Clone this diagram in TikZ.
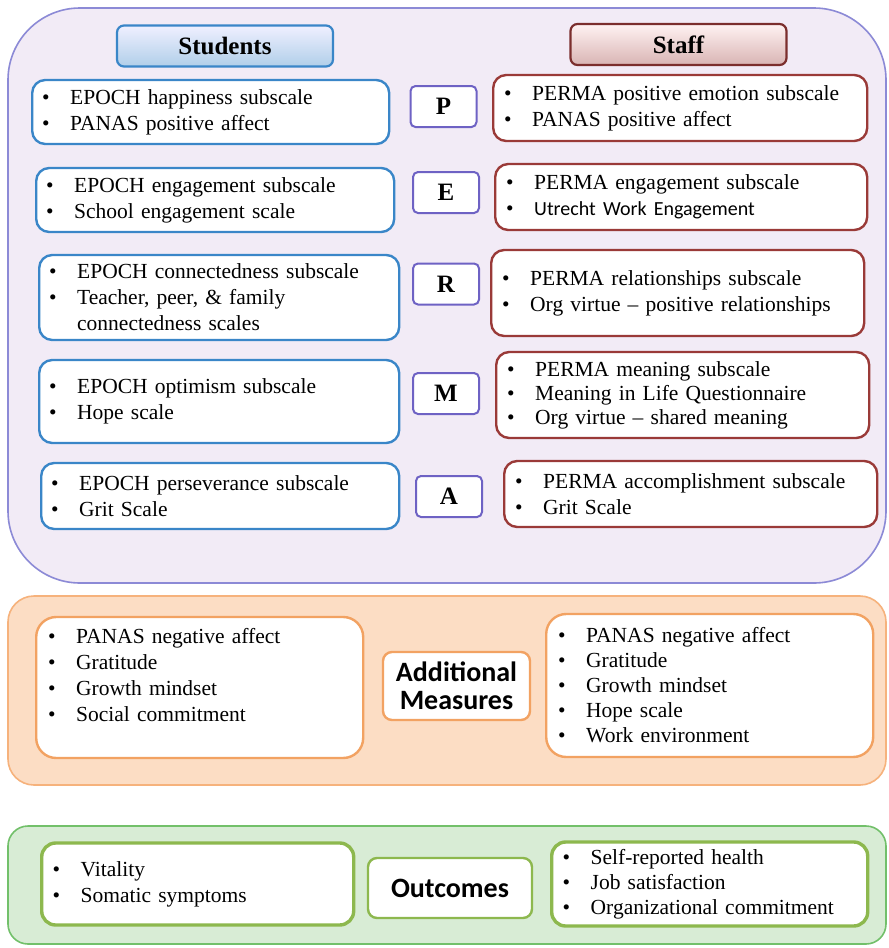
\documentclass[tikz,border=0pt]{standalone}
\usepackage{fontspec}
\setmainfont{Liberation Serif}
\newfontfamily\calfont{Carlito}
\usepackage{tikz}

\definecolor{permafill}{HTML}{F2EBF6}
\definecolor{permaline}{HTML}{8C8AD6}
\definecolor{stublue}{HTML}{3A86C8}
\definecolor{stared}{HTML}{9A3A38}
\definecolor{letline}{HTML}{6E62C4}
\definecolor{addfill}{HTML}{FCDDC4}
\definecolor{addline}{HTML}{F6B27C}
\definecolor{addbox}{HTML}{F2A262}
\definecolor{outfill}{HTML}{D8ECD5}
\definecolor{outline}{HTML}{72C06A}
\definecolor{outbox}{HTML}{8DB84E}

\newcommand{\bul}[1]{\makebox[28pt][l]{\textbullet}#1}
\newcommand{\cont}[1]{\hspace*{28pt}#1}

\begin{document}
\begin{tikzpicture}[x=1pt,y=-1pt,
  every node/.style={font=\fontsize{21.5}{26}\selectfont},
  stubox/.style={draw=stublue,line width=2.4pt,fill=white,rounded corners=13pt,
    align=left,inner xsep=10pt,anchor=west,text width=#1},
  stabox/.style={draw=stared,line width=2.4pt,fill=white,rounded corners=13pt,
    align=left,inner xsep=11pt,anchor=west,text width=#1},
  letterbox/.style={draw=letline,line width=2pt,fill=white,rounded corners=5pt,
    minimum width=66pt,minimum height=41pt,font=\fontsize{25}{30}\selectfont\bfseries},
  headbox/.style={line width=2.2pt,rounded corners=7pt,minimum width=216pt,
    minimum height=41pt,font=\fontsize{25}{30}\selectfont\bfseries},
  addbx/.style={draw=addbox,line width=2.4pt,fill=white,rounded corners=20pt,
    align=left,inner xsep=12pt,anchor=west,text width=#1},
  outbx/.style={draw=outbox,line width=3.4pt,fill=white,rounded corners=14pt,
    align=left,inner xsep=11pt,anchor=west,text width=#1},
  midbox/.style={line width=2.4pt,fill=white,rounded corners=9pt,align=center,
    font=\calfont\fontsize{28}{28}\selectfont\bfseries}]

\useasboundingbox[fill=white] (0,0) rectangle (889,948);

\draw[fill=permafill,draw=permaline,line width=1.6pt,rounded corners=72pt] (8,8) rectangle (886,583);
\draw[fill=addfill,draw=addline,line width=1.6pt,rounded corners=26pt] (8,596) rectangle (886,785);
\draw[fill=outfill,draw=outline,line width=1.6pt,rounded corners=20pt] (8,826) rectangle (886,944);

\node[headbox,draw=stublue,top color=blue!6,bottom color=stublue!40] (stud) at (225,46) {Students};
\node[headbox,draw=stared!80!black,top color=red!5,bottom color=stared!38] (staff) at (678.5,44.5) {Staff};

\node[stubox=337pt,minimum height=64pt] (sP) at (31,112) {\bul{EPOCH happiness subscale}\\\bul{PANAS positive affect}};
\node[stubox=338pt,minimum height=64pt] (sE) at (35,200) {\bul{EPOCH engagement subscale}\\\bul{School engagement scale}};
\node[stubox=340pt,minimum height=85pt] (sR) at (38,297.5) {\bul{EPOCH connectedness subscale}\\\bul{Teacher, peer, \& family}\\\cont{connectedness scales}};
\node[stubox=340pt,minimum height=83pt] (sM) at (38,401.5) {\bul{EPOCH optimism subscale}\\\bul{Hope scale}};
\node[stubox=338pt,minimum height=66pt] (sA) at (40,496) {\bul{EPOCH perseverance subscale}\\\bul{Grit Scale}};

\node[letterbox] (P) at (443.5,106.5) {P};
\node[letterbox] (E) at (446,192.5) {E};
\node[letterbox] (R) at (446,284) {R};
\node[letterbox] (M) at (446,393.5) {M};
\node[letterbox] (A) at (449,496.5) {A};

\node[stabox=352pt,minimum height=66pt] (fP) at (492,108) {\bul{PERMA positive emotion subscale}\\\bul{PANAS positive affect}};
\node[stabox=350pt,minimum height=66pt] (fE) at (494,197) {\bul{PERMA engagement subscale}\\\bul{{\calfont\fontsize{20}{26}\selectfont Utrecht Work Engagement}}};
\node[stabox=351pt,minimum height=86pt] (fR) at (490,293) {\bul{PERMA relationships subscale}\\\bul{Org virtue -- positive relationships}};
\node[stabox=351pt,minimum height=86pt,font=\fontsize{21.5}{24}\selectfont] (fM) at (495,395) {\bul{PERMA meaning subscale}\\\bul{Meaning in Life Questionnaire}\\\bul{Org virtue -- shared meaning}};
\node[stabox=351pt,minimum height=66pt] (fA) at (503,494) {\bul{PERMA accomplishment subscale}\\\bul{Grit Scale}};

\node[addbx=303pt,minimum height=141pt] (addS) at (35,687.5) {\bul{PANAS negative affect}\\\bul{Gratitude}\\\bul{Growth mindset}\\\bul{Social commitment}\\\mbox{}};
\node[midbox,draw=addbox,minimum width=147pt,minimum height=68pt] (addM) at (456.5,686) {Additional\\Measures};
\node[addbx=303pt,minimum height=143pt,font=\fontsize{21.5}{25}\selectfont] (addF) at (545,685.5) {\bul{PANAS negative affect}\\\bul{Gratitude}\\\bul{Growth mindset}\\\bul{Hope scale}\\\bul{Work environment}};

\node[outbx=290pt,minimum height=82pt] (outS) at (40,884) {\bul{Vitality}\\\bul{Somatic symptoms}};
\node[midbox,draw=outbox,minimum width=164pt,minimum height=60pt] (outM) at (450,888) {Outcomes};
\node[outbx=294pt,minimum height=84pt,font=\fontsize{21.5}{25}\selectfont] (outF) at (550,884) {\bul{Self-reported health}\\\bul{Job satisfaction}\\\bul{Organizational commitment}};
\end{tikzpicture}
\end{document}
